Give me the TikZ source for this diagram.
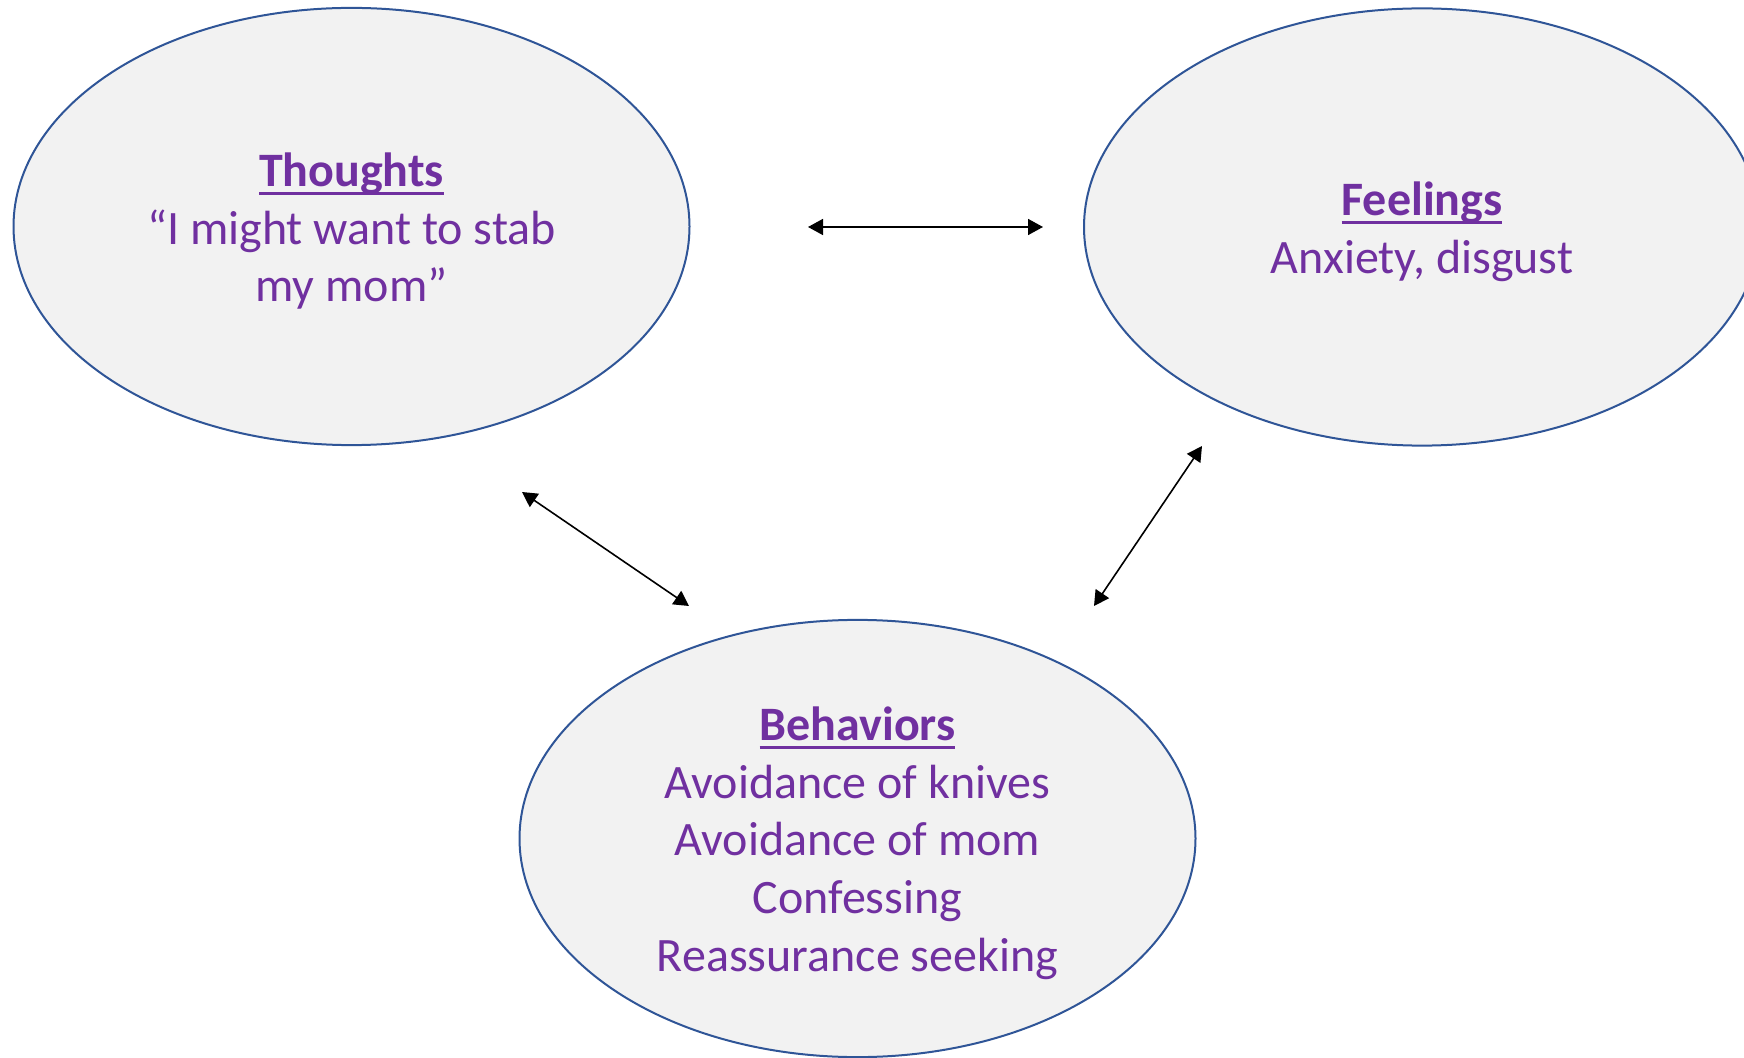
\documentclass[tikz,border=0pt]{standalone}
\usepackage{fontspec}
\setmainfont{Carlito}
\usepackage{xcolor}
\definecolor{cbtpurple}{RGB}{112,48,160}
\definecolor{cbtblue}{RGB}{47,85,151}
\definecolor{cbtgray}{RGB}{242,242,242}
\usetikzlibrary{arrows.meta,shapes.geometric}
\newlength{\ttlwd}
\newcommand{\ttl}[1]{\settowidth{\ttlwd}{\textbf{#1}}\rule{0pt}{21.5pt}\textbf{#1}\hspace{-\ttlwd}\rule[-4pt]{\ttlwd}{1.5pt}}

\begin{document}
\begin{tikzpicture}[x=0.5pt,y=-0.5pt,
  cbt/.style={ellipse,draw=cbtblue,line width=1pt,fill=cbtgray,
    minimum width=338pt,minimum height=218.6pt,inner sep=0pt,align=center,
    text=cbtpurple,font=\fontsize{24}{28.8}\selectfont},
  link/.style={{Triangle[length=7.5pt,width=8pt]}-{Triangle[length=7.5pt,width=8pt]},line width=0.8pt}]
  \useasboundingbox (0,0) rectangle (1744,1058);
  %% Three ellipses
  \node[cbt] (thoughts) at (351.5,226.5)
        {\ttl{Thoughts}\\“I might want to stab\\my mom”};
  \node[cbt] (feelings) at (1422,227)
        {\ttl{Feelings}\\Anxiety, disgust};
  \node[cbt] (behaviors) at (857.5,838.5)
        {\ttl{Behaviors}\\Avoidance of knives\\Avoidance of mom\\Confessing\\Reassurance seeking};
  %% Arrow ends
  \coordinate (tfL) at (808,227);
  \coordinate (tfR) at (1043,227);
  \coordinate (tbT) at (522,492);
  \coordinate (tbB) at (689,606);
  \coordinate (fbT) at (1202,446);
  \coordinate (fbB) at (1094,606);
  \draw[link] (tfL)--(tfR);
  \draw[link] (tbT)--(tbB);
  \draw[link] (fbT)--(fbB);
\end{tikzpicture}
\end{document}
